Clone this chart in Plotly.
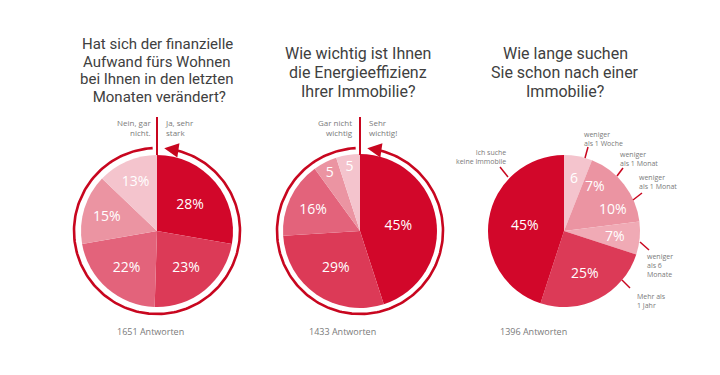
import numpy as np
import plotly.graph_objects as go

W, H = 720, 375
OFF = 8  # default page body margin; axis ranges shifted so coordinates are screen pixels

# ---------------- data ----------------
q1_title = ["Hat sich der finanzielle", "Aufwand fürs Wohnen", "bei Ihnen in den letzten", " Monaten verändert?"]
q1_labels = ["Ja, sehr stark", "2", "3", "4", "Nein, gar nicht."]
q1_values = [28, 23, 22, 15, 13]
q1_text = ["28%", "23%", "22%", "15%", "13%"]
q1_n = "1651 Antworten"

q2_title = ["Wie wichtig ist Ihnen", "die Energieeffizienz", "Ihrer Immobilie?"]
q2_labels = ["Sehr wichtig!", "2", "3", "4", "Gar nicht wichtig"]
q2_values = [45, 29, 16, 5, 5]
q2_text = ["45%", "29%", "16%", "5", "5"]
q2_n = "1433 Antworten"

q3_title = ["Wie lange suchen", "Sie schon nach einer", "Immobilie?"]
q3_labels = ["weniger<br>als 1 Woche", "weniger<br>als 1 Monat", "weniger<br>als 1 Monat",
             "weniger<br>als 6<br>Monate", "Mehr als<br>1 Jahr", "Ich suche<br>keine Immobile"]
q3_values = [6, 7, 10, 7, 25, 45]
q3_text = ["6", "7%", "10%", "7%", "25%", "45%"]
q3_n = "1396 Antworten"

# ---------------- style ----------------
C1, C2, C3, C4, C5 = "#d2072a", "#dc3a57", "#e3637b", "#eb94a2", "#f4c4cd"
RING = "#c8061f"
q1_colors = [C1, C2, C3, C4, C5]
q2_colors = [C1, C2, C3, C4, C5]
q3_colors = [C5, C4, C3, "#f0aab5", C2, C1]
q3_text_r = [54, 55, 54, 51, 47, 39]   # radial distance of inside labels (px)

FONT = "Open Sans"
TFONT = "Roboto"
TITLE_C = "#404040"
GREY = "#7a7a7a"

pies = [
    dict(cx=157, cy=231, r=76, labels=q1_labels, values=q1_values, text=q1_text, colors=q1_colors, info="text"),
    dict(cx=360, cy=231, r=77, labels=q2_labels, values=q2_values, text=q2_text, colors=q2_colors, info="text"),
    dict(cx=564, cy=231, r=76, labels=q3_labels, values=q3_values, text=q3_text, colors=q3_colors, info="none"),
]

fig = go.Figure()

for p in pies:
    fig.add_trace(go.Pie(
        labels=p["labels"], values=p["values"], text=p["text"],
        textinfo=p["info"], textposition="inside", insidetextorientation="horizontal",
        sort=False, direction="clockwise", rotation=0,
        marker=dict(colors=p["colors"], line=dict(width=0)),
        textfont=dict(family=FONT, size=14, color="white"),
        domain=dict(x=[(p["cx"] - p["r"] - OFF) / W, (p["cx"] + p["r"] - OFF) / W],
                    y=[1 - (p["cy"] + p["r"] - OFF) / H, 1 - (p["cy"] - p["r"] - OFF) / H]),
        showlegend=False, hoverinfo="skip",
    ))

# inside labels of pie 3 placed at slice mid-angles
p3 = pies[2]
vals = np.array(q3_values, dtype=float)
mids = (np.cumsum(vals) - vals / 2) / vals.sum() * 2 * np.pi
for t, a, rr in zip(q3_text, mids, q3_text_r):
    fig.add_annotation(x=p3["cx"] + rr * np.sin(a), y=p3["cy"] - rr * np.cos(a), text=t,
                       showarrow=False, xref="x", yref="y",
                       font=dict(family=FONT, size=14, color="white"))

# rings with arrows around first two pies
ring_r = 83
for cx, cy in [(157, 231), (360, 231)]:
    ang = np.radians(np.linspace(9, 357, 200))
    fig.add_trace(go.Scatter(x=cx + ring_r * np.sin(ang), y=cy - ring_r * np.cos(ang),
                             mode="lines", line=dict(color=RING, width=2.6),
                             showlegend=False, hoverinfo="skip"))
    fig.add_shape(type="line", x0=cx, x1=cx, y0=117, y1=cy - 76,
                  line=dict(color=RING, width=2), xref="x", yref="y")
    a = np.radians(5)
    fig.add_annotation(x=cx + ring_r * np.sin(a), y=cy - ring_r * np.cos(a),
                       ax=cx + ring_r * np.sin(np.radians(12)), ay=cy - ring_r * np.cos(np.radians(12)),
                       axref="x", ayref="y", xref="x", yref="y", text="",
                       showarrow=True, arrowhead=2, arrowsize=1.1, arrowwidth=2.6, arrowcolor=RING)

# titles (one annotation per line for tight leading)
for lines, x, ys, size in [(q1_title, 157, [44, 61.5, 79, 96.5], 15),
                           (q2_title, 358, [53, 72, 91], 16),
                           (q3_title, 565, [53, 72, 91], 16)]:
    for ln, y in zip(lines, ys):
        fig.add_annotation(x=x, y=y, text=ln, showarrow=False, xref="x", yref="y",
                           borderpad=0,
                           font=dict(family=TFONT, size=size, color=TITLE_C))

# answer counts
for txt, x in [(q1_n, 150), (q2_n, 342), (q3_n, 533)]:
    fig.add_annotation(x=x, y=331, text=txt, showarrow=False, xref="x", yref="y",
                       font=dict(family=FONT, size=9, color=GREY))

# small scale labels
small = dict(family=FONT, size=8, color=GREY)
fig.add_annotation(x=153, y=127, text="Nein, gar<br>nicht.", showarrow=False, xref="x", yref="y",
                   xanchor="right", align="right", font=small)
fig.add_annotation(x=163, y=127, text="Ja, sehr<br>stark", showarrow=False, xref="x", yref="y",
                   xanchor="left", align="left", font=small)
fig.add_annotation(x=355, y=127, text="Gar nicht<br>wichtig", showarrow=False, xref="x", yref="y",
                   xanchor="right", align="right", font=small)
fig.add_annotation(x=367, y=127, text="Sehr<br>wichtig!", showarrow=False, xref="x", yref="y",
                   xanchor="left", align="left", font=small)

# pie 3 outside labels with leader lines
tiny = dict(family=FONT, size=7, color=GREY)
lab3 = [
    (q3_labels[0], 582, 139, "left", (585, 158, 588, 147)),
    (q3_labels[1], 618, 159, "left", (617, 176, 623, 168)),
    (q3_labels[2], 637, 182, "left", (633, 200, 642, 193)),
    (q3_labels[3], 645, 265, "left", (640, 242, 649, 250)),
    (q3_labels[4], 635, 301, "left", (622, 280, 630, 288)),
    (q3_labels[5], 508, 157, "right", (500, 167, 508, 177)),
]
for txt, x, y, anc, (x0, y0, x1, y1) in lab3:
    fig.add_annotation(x=x, y=y, text=txt, showarrow=False, xref="x", yref="y",
                       xanchor=anc, align=anc, font=tiny)
    fig.add_shape(type="line", x0=x0, y0=y0, x1=x1, y1=y1, xref="x", yref="y",
                  line=dict(color=RING, width=1.5))

fig.update_layout(
    width=W, height=H, margin=dict(l=0, r=0, t=0, b=0),
    paper_bgcolor="white", plot_bgcolor="white",
    xaxis=dict(range=[OFF, W + OFF], visible=False, fixedrange=True),
    yaxis=dict(range=[H + OFF, OFF], visible=False, fixedrange=True),
)

fig.write_html("out.html")
